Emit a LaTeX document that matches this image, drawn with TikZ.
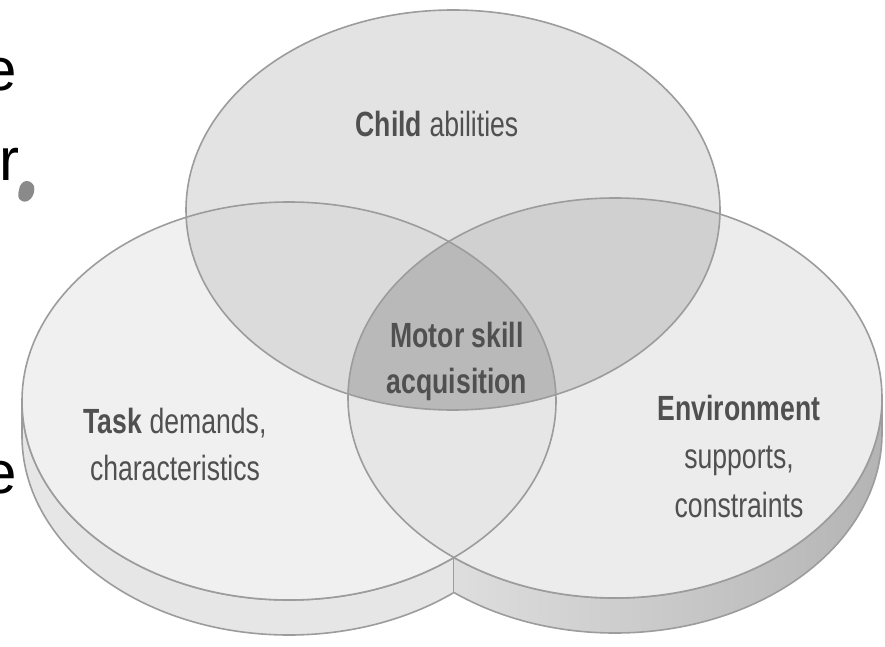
\documentclass[tikz,border=0pt]{standalone}
\usepackage{fontspec}
\newfontfamily\condfont{Liberation Sans}[FakeStretch=0.76]
\newfontfamily\plainfont{Liberation Sans}
\definecolor{lineC}{HTML}{9C9C9C}
\definecolor{txtC}{HTML}{505050}
\definecolor{faceL}{HTML}{F0F0F0}
\definecolor{faceR}{HTML}{ECECEC}
\definecolor{faceT}{HTML}{E3E3E3}
\definecolor{faceLR}{HTML}{E6E6E6}
\definecolor{faceTL}{HTML}{DBDBDB}
\definecolor{faceTR}{HTML}{D0D0D0}
\definecolor{faceTLR}{HTML}{B9B9B9}
\definecolor{sideL}{HTML}{E6E6E6}
\definecolor{sideRa}{HTML}{E8E8E8}
\definecolor{sideRb}{HTML}{B4B4B4}
\definecolor{blobC}{HTML}{8A8A8A}
\begin{document}
\begin{tikzpicture}[x=1pt,y=-1pt,
  outl/.style={draw=lineC, line width=1.6pt},
  lbl/.style={font=\condfont\fontsize{35}{46}\selectfont, text=txtC, align=center, inner sep=0pt},
  frag/.style={font=\plainfont\fontsize{60}{60}\selectfont, text=black, inner sep=0pt, anchor=base east}]
\useasboundingbox (0,0) rectangle (885,647);
\clip (0,0) rectangle (885,647);
\fill[white] (0,0) rectangle (885,647);

% sides (thickness) of the two lower discs
\begin{scope}
  \clip (0,0) rectangle (453.5,647);
  \path[fill=sideL, outl] (22,401) -- (22,436) arc[start angle=180, end angle=0, x radius=267, y radius=199]
    -- (556,401) arc[start angle=0, end angle=180, x radius=267, y radius=199] -- cycle;
\end{scope}
\begin{scope}
  \clip (453.5,0) rectangle (885,647);
  \shade[left color=sideRa, right color=sideRb] (348,398) -- (348,433) arc[start angle=180, end angle=0, x radius=267, y radius=200]
    -- (882,398) arc[start angle=0, end angle=180, x radius=267, y radius=200] -- cycle;
  \path[outl] (348,398) -- (348,433) arc[start angle=180, end angle=0, x radius=267, y radius=200]
    -- (882,398) arc[start angle=0, end angle=180, x radius=267, y radius=200] -- cycle;
\end{scope}

% faces
\fill[faceL] (289,401) ellipse [x radius=267, y radius=199];
\fill[faceR] (615,398) ellipse [x radius=267, y radius=200];
\fill[faceT] (453,210) ellipse [x radius=267, y radius=200];
\begin{scope}
  \clip (289,401) ellipse [x radius=267, y radius=199];
  \fill[faceLR] (615,398) ellipse [x radius=267, y radius=200];
\end{scope}
\begin{scope}
  \clip (453,210) ellipse [x radius=267, y radius=200];
  \fill[faceTL] (289,401) ellipse [x radius=267, y radius=199];
\end{scope}
\begin{scope}
  \clip (453,210) ellipse [x radius=267, y radius=200];
  \fill[faceTR] (615,398) ellipse [x radius=267, y radius=200];
\end{scope}
\begin{scope}
  \clip (453,210) ellipse [x radius=267, y radius=200];
  \clip (289,401) ellipse [x radius=267, y radius=199];
  \fill[faceTLR] (615,398) ellipse [x radius=267, y radius=200];
\end{scope}

% outlines
\draw[outl] (289,401) ellipse [x radius=267, y radius=199];
\draw[outl] (615,398) ellipse [x radius=267, y radius=200];
\draw[outl] (453,210) ellipse [x radius=267, y radius=200];
\coordinate (j1) at (453.5,557.5);
\coordinate (j2) at (453.5,592.5);
\draw[outl] (j1) -- (j2);

% labels
\node[lbl, anchor=base] (child) at (437,137) {\textbf{Child} abilities};
\node[lbl] (motor) at (457,361) {\textbf{Motor skill}\\\textbf{acquisition}};
\node[lbl, font=\condfont\fontsize{35}{47}\selectfont] (task) at (175,444) {\textbf{Task} demands,\\characteristics};
\node[lbl, font=\condfont\fontsize{35}{48.5}\selectfont] (env) at (739,456) {\textbf{Environment}\\supports,\\constraints};

% cropped fragments at the left edge
\node[frag] (f1) at (17,91) {e};
\node[frag] (f2) at (20,181) {r};
\node[frag] (f3) at (17,493) {e};
\fill[blobC] (19,190) .. controls (20,180) and (30,178) .. (34,186) .. controls (36,196) and (28,204) .. (22,201) .. controls (17,199) and (18,194) .. (19,190) -- cycle;
\end{tikzpicture}
\end{document}
